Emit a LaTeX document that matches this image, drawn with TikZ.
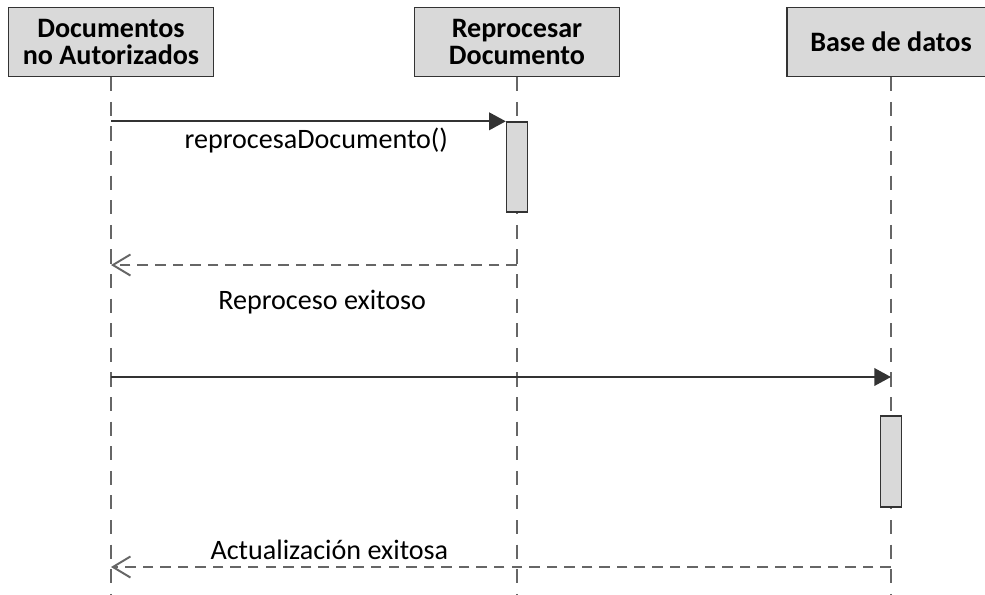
\documentclass[tikz,border=0pt]{standalone}
\usepackage{fontspec}
\setmainfont{Carlito}
\usetikzlibrary{arrows.meta}

\definecolor{cajagris}{HTML}{D9D9D9}
\definecolor{lineagris}{HTML}{666666}
\definecolor{bordegris}{HTML}{333333}

\begin{document}
\begin{tikzpicture}[x=0.02cm, y=-0.02cm,
  every node/.style={font=\fontsize{16}{17}\selectfont, text=black},
  actor/.style={draw=bordegris, line width=0.9pt, fill=cajagris, align=center,
    minimum width=4.1cm, minimum height=1.38cm, inner sep=1pt,
    font=\fontsize{16}{15.5}\selectfont\bfseries},
  activa/.style={draw=bordegris, line width=0.8pt, fill=cajagris,
    minimum width=0.42cm, inner sep=0pt},
  vida/.style={lineagris, line width=1.1pt, dash pattern=on 8pt off 6pt},
  llamada/.style={bordegris, line width=1.1pt, -{Triangle[length=9.5pt, width=10pt]}},
  respuesta/.style={lineagris, line width=1.1pt, dash pattern=on 6pt off 4pt,
    -{Straight Barb[length=10pt, width=12pt]}}]

\useasboundingbox (0,0) rectangle (985,595);

% Participantes
\node[actor] (docs) at (111,42) {Documentos\\no Autorizados};
\node[actor] (repro) at (517,42) {Reprocesar\\Documento};
\node[actor, minimum width=4.16cm] (base) at (891,42) {Base de datos};

% Lineas de vida
\coordinate (fin) at (0,595);
\draw[vida] (docs.south) -- (docs.south |- fin);
\draw[vida] (repro.south) -- (repro.south |- fin);
\draw[vida] (base.south) -- (base.south |- fin);

% Activaciones
\node[activa, minimum height=1.8cm] (act1) at (517,167) {};
\node[activa, minimum height=1.82cm] (act2) at (891,461.5) {};

% Mensajes
\coordinate (f1) at (0,265);
\coordinate (f2) at (0,377);
\coordinate (f3) at (0,567);

\draw[llamada] (docs.south |- act1.north) -- (act1.north west)
  node[pos=0.52, below] {reprocesaDocumento()};
\draw[respuesta] (repro.south |- f1) -- (docs.south |- f1)
  node[pos=0.48, below=0.36cm] {Reproceso exitoso};
\draw[llamada] (docs.south |- f2) -- (base.south |- f2);
\draw[respuesta] (base.south |- f3) -- (docs.south |- f3)
  node[pos=0.72, above] {Actualización exitosa};
\end{tikzpicture}
\end{document}
